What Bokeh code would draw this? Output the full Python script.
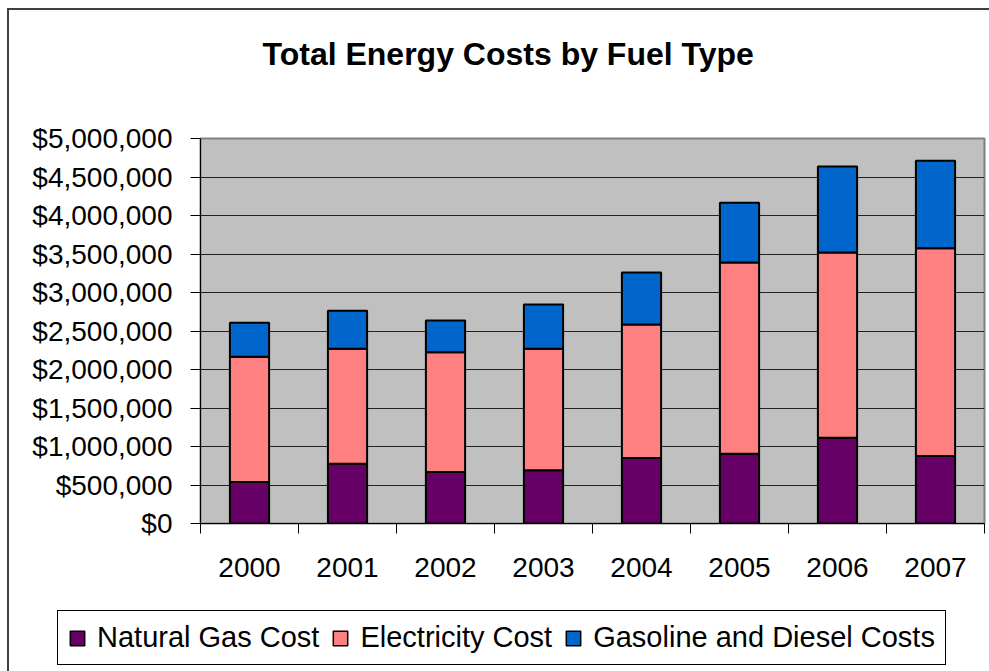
from bokeh.plotting import figure
from bokeh.layouts import column, row
from bokeh.models import (ColumnDataSource, FixedTicker, NumeralTickFormatter, Legend,
                          LegendItem, Range1d, Title)
from bokeh.embed import file_html
from bokeh.resources import INLINE

years = ["2000", "2001", "2002", "2003", "2004", "2005", "2006", "2007"]
natural_gas = [539000, 777000, 668000, 690000, 850000, 907000, 1114000, 876000]
electricity = [1628000, 1494000, 1555000, 1581000, 1736000, 2482000, 2404000, 2699000]
gasoline_diesel = [441000, 492000, 414000, 574000, 673000, 777000, 1119000, 1135000]
series_names = ["Natural Gas Cost", "Electricity Cost", "Gasoline and Diesel Costs"]
colors = ["#660066", "#FF8080", "#0066CC"]
y_ticks = list(range(0, 5000001, 500000))
title_text = "Total Energy Costs by Fuel Type"

FONT = "Liberation Sans"

xpos = list(range(1, len(years) + 1))
src = ColumnDataSource(dict(x=xpos, ng=natural_gas, el=electricity, gd=gasoline_diesel))

p = figure(width=980, height=590, x_range=Range1d(0.5, len(years) + 0.5),
           y_range=Range1d(0, 5000000), output_backend="svg", toolbar_location=None,
           min_border_left=191, min_border_right=5, min_border_top=128, min_border_bottom=77)
p.background_fill_color = "#C0C0C0"
p.border_fill_color = "white"
p.outline_line_color = "#808080"
p.outline_line_width = 2

rs = p.vbar_stack(["ng", "el", "gd"], x="x", width=0.4, source=src,
                  fill_color=colors, line_color="black", line_width=2)

p.title.text = title_text
p.title.text_font = FONT
p.title.text_font_size = "32px"
p.title.text_font_style = "bold"
p.title.text_color = "black"
p.title.align = "left"
p.title.offset = 62
p.title.standoff = 46
# blank spacer between the title and the plot area
p.add_layout(Title(text=" ", text_font_size="12px", standoff=28), "above")

p.xgrid.visible = False
p.ygrid.ticker = FixedTicker(ticks=y_ticks)
p.ygrid.grid_line_color = "#222222"
p.ygrid.grid_line_width = 1

xa = p.xaxis[0]
xa.ticker = FixedTicker(ticks=xpos, minor_ticks=[i + 0.5 for i in range(len(years) + 1)])
xa.major_label_overrides = {i: y for i, y in zip(xpos, years)}
xa.major_tick_out = 0
xa.major_tick_in = 0
xa.minor_tick_out = 10
xa.minor_tick_in = 0
xa.minor_tick_line_color = "black"
xa.axis_line_color = "black"
xa.major_label_text_font = FONT
xa.major_label_text_font_size = "28px"
xa.major_label_text_color = "black"
xa.major_label_standoff = 24

ya = p.yaxis[0]
ya.ticker = FixedTicker(ticks=y_ticks)
ya.formatter = NumeralTickFormatter(format="$0,0")
ya.major_tick_out = 10
ya.major_tick_in = 0
ya.minor_tick_line_color = None
ya.axis_line_color = "black"
ya.major_tick_line_color = "black"
ya.major_label_text_font = FONT
ya.major_label_text_font_size = "28px"
ya.major_label_text_color = "black"
ya.major_label_standoff = 18

# legend strip below the chart (same series, hidden so only the legend shows)
lp = figure(width=980, height=71, x_range=Range1d(0.5, len(years) + 0.5),
            y_range=Range1d(-2e7, -1e7),
            output_backend="svg", toolbar_location=None, min_border=0,
            x_axis_location=None, y_axis_location=None)
lp.grid.visible = False
lp.outline_line_color = None
lp.background_fill_color = "white"
lp.border_fill_color = "white"
swatches = lp.vbar_stack(["ng", "el", "gd"], x="x", width=0.4, source=src,
                         fill_color=colors, line_color="black", line_width=1.5)
for r in swatches:
    r.visible = False

legend = Legend(items=[LegendItem(label=n, renderers=[r]) for n, r in zip(series_names, swatches)],
                orientation="horizontal", location=(48, 6))
legend.label_text_font = FONT
legend.label_text_font_size = "29px"
legend.label_text_color = "black"
legend.glyph_width = 18
legend.glyph_height = 18
legend.label_standoff = 11
legend.spacing = 12
legend.padding = 10
legend.margin = 0
legend.border_line_color = "black"
legend.border_line_width = 1
legend.border_line_alpha = 1
legend.background_fill_color = "white"
legend.background_fill_alpha = 1
legend.inactive_fill_alpha = 0
legend.click_policy = "none"
lp.add_layout(legend, "center")

layout = column(p, row(lp), spacing=0,
                styles={"border-left": "2px solid #404040", "border-top": "2px solid #404040",
                        "margin-left": "7px", "margin-top": "8px"})

open("out.html", "w").write(file_html(layout, INLINE))
